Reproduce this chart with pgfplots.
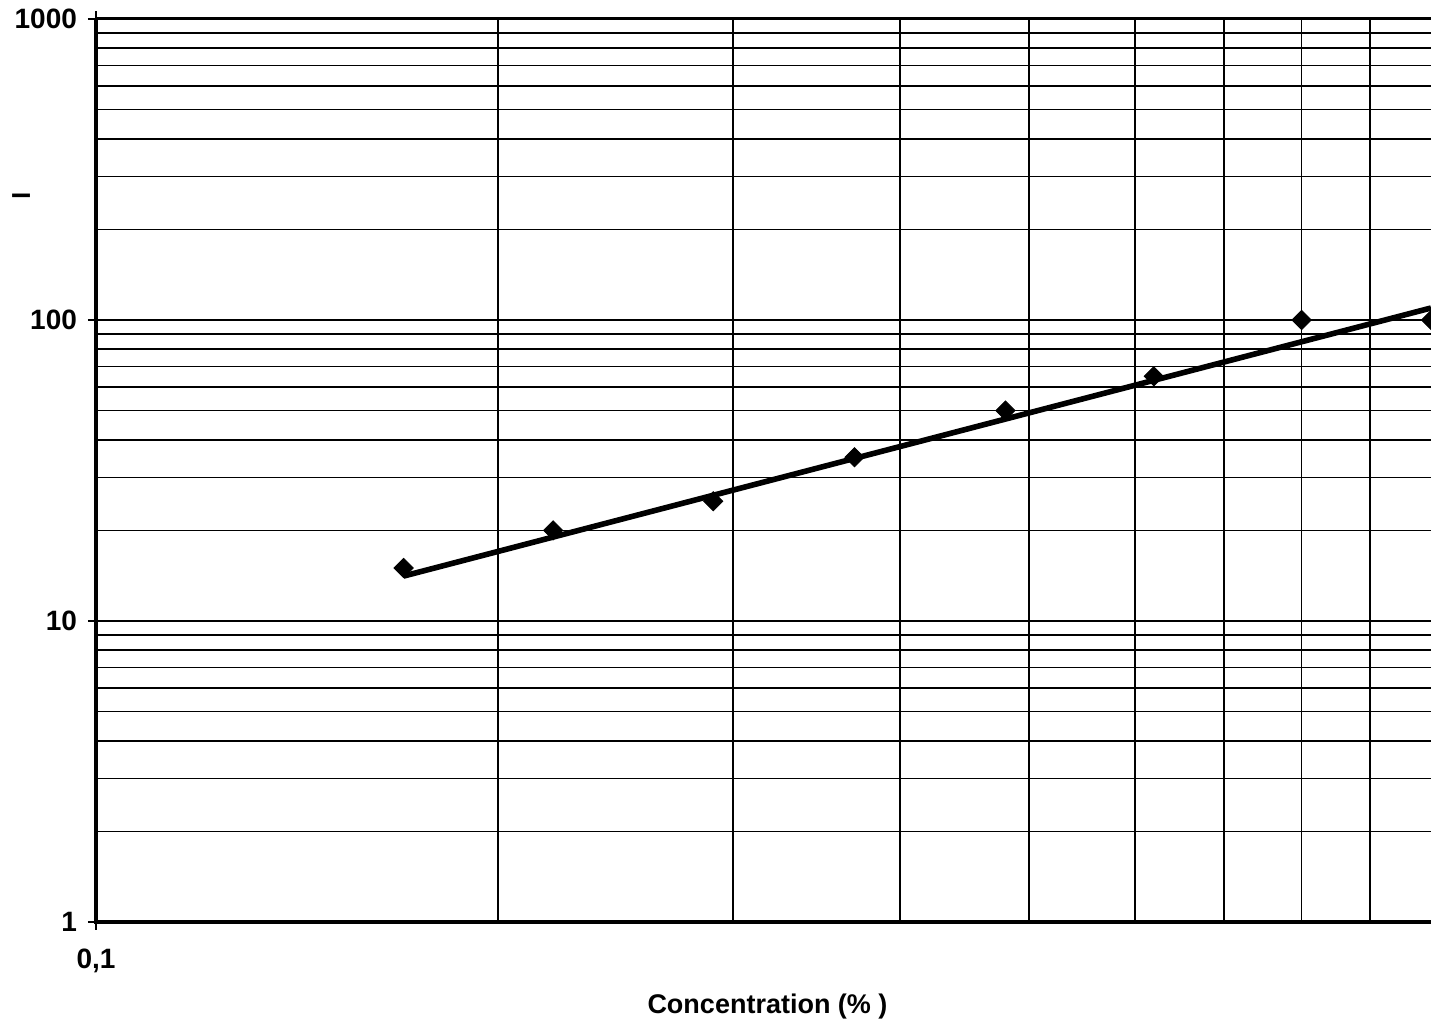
\documentclass[border=0pt]{standalone}
\usepackage{fontspec}
\setmainfont{Liberation Sans}
\usepackage{pgfplots}
\pgfplotsset{compat=1.18}
\begin{document}
\begin{tikzpicture}
\begin{loglogaxis}[
  scale only axis, width=667.5pt, height=451.5pt,
  xmin=0.1, xmax=1, ymin=1, ymax=1000,
  axis line style={draw=none},
  xtick={0.1}, xticklabels={0{,}1},
  ytick={1,10,100,1000}, yticklabels={1,10,100,1000},
  minor xtick={0.2,0.3,0.4,0.5,0.6,0.7,0.8,0.9},
  minor ytick={2,3,4,5,6,7,8,9,20,30,40,50,60,70,80,90,200,300,400,500,600,700,800,900},
  grid=both,
  major grid style={black, line width=0.8pt},
  minor grid style={black, line width=0.8pt},
  tick align=outside, major tick length=4pt, minor tick length=0pt,
  tick style={black, line width=0.6pt},
  ticklabel style={font=\bfseries\fontsize{14}{16}\selectfont},
  yticklabel style={xshift=-2pt},
  xticklabel style={yshift=-6pt},
  xlabel={Concentration (\% )},
  xlabel style={font=\bfseries\fontsize{13.5}{16}\selectfont, at={(axis description cs:0.503,0)}, anchor=center, yshift=-42.5pt},
  clip=false,
]
\addplot[no marks, line width=2.8pt, black] coordinates {(0.17,14.1) (1,109.6)};
\addplot[only marks, mark=square*, mark size=3.4pt, mark options={rotate=45, fill=black, draw=black}] coordinates {
  (0.17,15) (0.22,20) (0.29,25) (0.37,35) (0.48,50) (0.62,65) (0.80,100) (1.00,100)
};
\draw[line width=2pt] (rel axis cs:0,1) -- (rel axis cs:0,0) -- (rel axis cs:1,0);
\draw[line width=1.5pt] (rel axis cs:0,1) -- (rel axis cs:1,1);
\node[font=\bfseries\fontsize{18}{20}\selectfont] at (rel axis cs:0,0.7996) [xshift=-37pt] {–};
\coordinate (ll) at (rel axis cs:0,0);
\coordinate (ur) at (rel axis cs:1,1);
\end{loglogaxis}
\pgfresetboundingbox
\path[use as bounding box] ([shift={(-48pt,-52.5pt)}]ll) rectangle ([shift={(0pt,9.5pt)}]ur);
\end{tikzpicture}
\end{document}
